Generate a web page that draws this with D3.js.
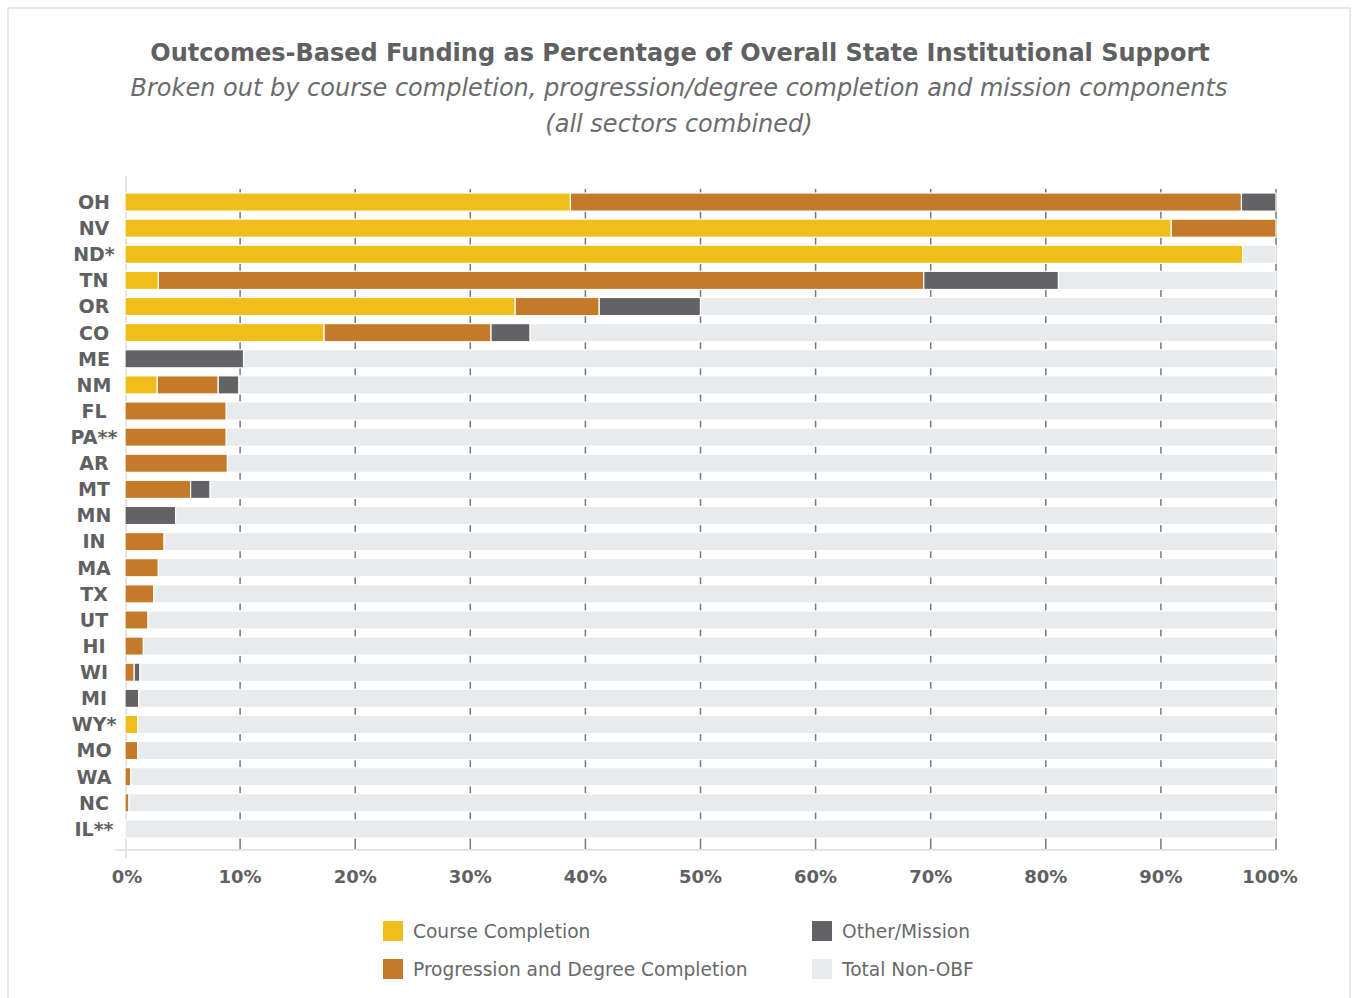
<!DOCTYPE html>
<html>
<head>
<meta charset="utf-8">
<script src="https://cdn.jsdelivr.net/npm/d3@7"></script>
<style>
  body { margin: 0; background: #fff; }
  text { font-family: "DejaVu Sans", Verdana, sans-serif; }
</style>
</head>
<body>
<div id="canvas"></div>
<script>
"use strict"

/* Data: share of state institutional support (%) */
let states = ["OH", "NV", "ND*", "TN", "OR", "CO", "ME", "NM", "FL", "PA**", "AR", "MT",
  "MN", "IN", "MA", "TX", "UT", "HI", "WI", "MI", "WY*", "MO", "WA", "NC", "IL**"];
let course      = [38.7, 90.9, 97.1, 2.9, 33.9, 17.3, 0, 2.8, 0, 0, 0, 0, 0, 0, 0, 0, 0, 0, 0, 0, 1.1, 0, 0, 0, 0];
let progression = [58.3, 9.1, 0, 66.5, 7.3, 14.5, 0, 5.3, 8.8, 8.8, 8.9, 5.7, 0, 3.4, 2.9, 2.5, 2.0, 1.6, 0.8, 0, 0, 1.1, 0.5, 0.35, 0];
let other       = [3.0, 0, 0, 11.7, 8.8, 3.4, 10.3, 1.8, 0, 0, 0, 1.7, 4.4, 0, 0, 0, 0, 0, 0.5, 1.2, 0, 0, 0, 0, 0];
let nonObf      = [0, 0, 2.9, 18.9, 50.0, 64.8, 89.7, 90.1, 91.2, 91.2, 91.1, 92.6, 95.6, 96.6, 97.1, 97.5, 98.0, 98.4, 98.7, 98.8, 98.9, 98.9, 99.5, 99.65, 100];

let seriesNames = ["Course Completion", "Progression and Degree Completion", "Other/Mission", "Total Non-OBF"];
let seriesColors = ["#f0be1a", "#c47a29", "#636366", "#e9eaeb"];
let tickValues = [0, 10, 20, 30, 40, 50, 60, 70, 80, 90, 100];

/* Drawing configuration */
let svgWidth = 1352;
let svgHeight = 998;
let textColor = "#5f6062";

let svg = d3.select("#canvas")
  .append("svg")
  .attr("width", svgWidth)
  .attr("height", svgHeight);

/* Outer frame */
svg.append("rect")
  .attr("x", 8)
  .attr("y", 8)
  .attr("width", 1342)
  .attr("height", 1000)
  .attr("fill", "none")
  .attr("stroke", "#e2e2e2")
  .attr("stroke-width", 1.5);

/* Titles */
svg.append("text")
  .attr("x", 680)
  .attr("y", 61)
  .attr("text-anchor", "middle")
  .style("font-size", "24px")
  .style("font-weight", "bold")
  .style("fill", textColor)
  .text("Outcomes-Based Funding as Percentage of Overall State Institutional Support");

svg.append("text")
  .attr("x", 679)
  .attr("y", 96)
  .attr("text-anchor", "middle")
  .style("font-size", "24px")
  .style("font-style", "italic")
  .style("fill", "#6b6b6d")
  .text("Broken out by course completion, progression/degree completion and mission components");

svg.append("text")
  .attr("x", 679)
  .attr("y", 132)
  .attr("text-anchor", "middle")
  .style("font-size", "24px")
  .style("font-style", "italic")
  .style("fill", "#6b6b6d")
  .text("(all sectors combined)");

/* Scales */
let xScale = d3.scaleLinear()
  .domain([0, 100])
  .range([125, 1276]);

let yScale = d3.scaleBand()
  .domain(states)
  .range([189, 842])
  .paddingInner(0.306)
  .paddingOuter(0.153);

/* Stack the four components */
let rows = states.map(function (s, i) {
  return {state: s, c0: course[i], c1: progression[i], c2: other[i], c3: nonObf[i]};
});
let stack = d3.stack().keys(["c0", "c1", "c2", "c3"]);
let layers = stack(rows);

/* Vertical gridlines (only visible between bars) */
svg.append("g")
  .selectAll("line")
  .data(tickValues.slice(1))
  .enter()
  .append("line")
  .attr("x1", function (d) { return xScale(d); })
  .attr("x2", function (d) { return xScale(d); })
  .attr("y1", 189)
  .attr("y2", 850)
  .attr("stroke", "#77787a")
  .attr("stroke-width", 1.5);

/* Zero line and baseline */
svg.append("line")
  .attr("x1", xScale(0) + 1)
  .attr("x2", xScale(0) + 1)
  .attr("y1", 176)
  .attr("y2", 858)
  .attr("stroke", "#e4e4e4")
  .attr("stroke-width", 2);

svg.append("line")
  .attr("x1", 115)
  .attr("x2", xScale(100))
  .attr("y1", 850)
  .attr("y2", 850)
  .attr("stroke", "#e4e4e4")
  .attr("stroke-width", 2);

/* Bars */
svg.append("g")
  .selectAll("g")
  .data(layers)
  .enter()
  .append("g")
  .attr("fill", function (d, i) { return seriesColors[i]; })
  .selectAll("rect")
  .data(function (d) { return d.filter(function (p) { return p[1] - p[0] > 0; }); })
  .enter()
  .append("rect")
  .attr("x", function (d) { return xScale(d[0]); })
  .attr("y", function (d) { return yScale(d.data.state); })
  .attr("width", function (d) { return xScale(d[1]) - xScale(d[0]); })
  .attr("height", yScale.bandwidth())
  .attr("stroke", "#ffffff")
  .attr("stroke-width", 1.2);

/* State labels */
svg.append("g")
  .selectAll("text")
  .data(states)
  .enter()
  .append("text")
  .attr("x", 94)
  .attr("y", function (d) { return yScale(d) + yScale.bandwidth() / 2; })
  .attr("dy", "0.36em")
  .attr("text-anchor", "middle")
  .style("font-size", "19px")
  .style("font-weight", "bold")
  .style("fill", textColor)
  .text(function (d) { return d; });

/* X axis labels */
svg.append("g")
  .selectAll("text")
  .data(tickValues)
  .enter()
  .append("text")
  .attr("x", function (d) { return xScale(d) - (d === 100 ? 6 : 0) + (d === 0 ? 2 : 0); })
  .attr("y", 883)
  .attr("text-anchor", "middle")
  .style("font-size", "18px")
  .style("font-weight", "bold")
  .style("fill", textColor)
  .text(function (d) { return d + "%"; });

/* Legend */
let legendX = [383, 812];
let legendY = [921, 959];
for (let i = 0; i < seriesNames.length; i = i + 1) {
  let lx = legendX[i < 2 ? 0 : 1];
  let ly = legendY[i % 2];
  svg.append("rect")
    .attr("x", lx)
    .attr("y", ly)
    .attr("width", 20)
    .attr("height", 20)
    .attr("fill", seriesColors[i]);
  svg.append("text")
    .attr("x", lx + 30)
    .attr("y", ly + 17)
    .style("font-size", "18.6px")
    .style("fill", "#68696b")
    .text(seriesNames[i]);
}
</script>
</body>
</html>
